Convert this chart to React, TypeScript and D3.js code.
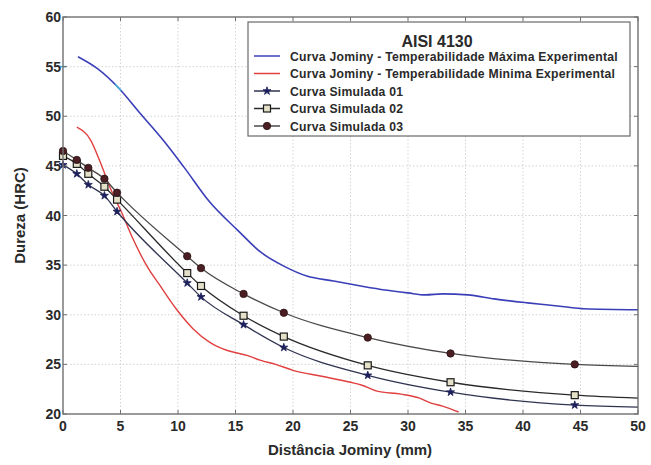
import React from "react";
import * as d3 from "d3";

// Jominy end-quench hardenability, AISI 4130
const maxX = [1.3, 3.0, 4.8, 6.7, 8.7, 10.5, 12.8, 15.2, 17.2, 19.2, 21.2, 23.5, 25.9, 28.0, 30.0, 31.5, 33.0, 35.2, 37.5, 40.4, 42.0, 43.6, 45.3, 50.0];
const maxHRC = [56.0, 54.8, 52.9, 50.3, 47.6, 44.9, 41.3, 38.5, 36.3, 34.9, 33.9, 33.4, 32.9, 32.5, 32.2, 32.0, 32.1, 32.0, 31.6, 31.2, 31.0, 30.8, 30.6, 30.5];

const minX = [1.2, 2.4, 3.2, 4.1, 5.1, 6.1, 7.3, 8.4, 9.9, 11.3, 12.8, 14.3, 16.0, 17.2, 18.5, 20.0, 22.5, 25.0, 26.0, 27.3, 29.4, 31.0, 32.0, 33.0, 34.4];
const minHRC = [48.9, 47.6, 45.5, 42.8, 40.3, 37.6, 34.9, 33.0, 30.5, 28.6, 27.2, 26.4, 25.9, 25.4, 25.0, 24.4, 23.8, 23.2, 22.9, 22.3, 22.0, 21.6, 21.1, 20.8, 20.2];

// experimental points marked on the maximum curve
const cyanX = [0, 4.8];
const cyanHRC = [55, 52.9];

// simulated curves: markers at every point except the final x = 50
const simX = [0, 1.2, 2.2, 3.6, 4.7, 10.8, 12.0, 15.7, 19.2, 26.5, 33.7, 44.5, 50];
const sim01 = [45.1, 44.2, 43.1, 42.0, 40.4, 33.2, 31.8, 29.0, 26.7, 23.9, 22.2, 20.9, 20.7];
const sim02 = [46.0, 45.2, 44.2, 42.9, 41.6, 34.2, 32.9, 29.9, 27.8, 24.9, 23.2, 21.9, 21.6];
const sim03 = [46.5, 45.6, 44.8, 43.7, 42.3, 35.9, 34.7, 32.1, 30.2, 27.7, 26.1, 25.0, 24.8];

const xTicks = [0, 5, 10, 15, 20, 25, 30, 35, 40, 45, 50];
const yTicks = [20, 25, 30, 35, 40, 45, 50, 55, 60];

const legendTitle = "AISI 4130";
const legendLabels = [
  "Curva Jominy - Temperabilidade Máxima Experimental",
  "Curva Jominy - Temperabilidade Minima Experimental",
  "Curva Simulada 01",
  "Curva Simulada 02",
  "Curva Simulada 03",
];

const W = 651;
const H = 465;
const plot = { left: 63, top: 17, right: 638, bottom: 414 };

const x = d3.scaleLinear().domain([0, 50]).range([plot.left, plot.right]);
const y = d3.scaleLinear().domain([20, 60]).range([plot.bottom, plot.top]);

const font = "Arial, 'Liberation Sans', Helvetica, sans-serif";

function pathOf(xs: number[], ys: number[]) {
  const line = d3
    .line<number>()
    .x((_, i) => x(xs[i]))
    .y((v) => y(v))
    .curve(d3.curveMonotoneX);
  return line(ys) || "";
}

const starPath = d3.symbol(d3.symbolStar, 20)() || "";

function Marker({ kind, cx, cy }: { kind: number; cx: number; cy: number }) {
  if (kind === 0)
    return <path d={starPath} transform={`translate(${cx},${cy})`} fill="#1c1f5a" stroke="#1c1f5a" strokeWidth={0.8} />;
  if (kind === 1)
    return <rect x={cx - 3.5} y={cy - 3.5} width={7} height={7} fill="#e4e1c8" stroke="#1a1a1a" strokeWidth={1.2} />;
  return <circle cx={cx} cy={cy} r={3.7} fill="#4a1e22" stroke="#2a1214" strokeWidth={0.8} />;
}

const simSeries = [
  { ys: sim01, color: "#2f3350" },
  { ys: sim02, color: "#2a2a2a" },
  { ys: sim03, color: "#4d4848" },
];

export default function App() {
  return (
    <div style={{ position: "fixed", left: 0, top: 0, width: W, height: H, background: "#fff" }}>
      <svg width={W} height={H} style={{ display: "block" }}>
        <rect width={W} height={H} fill="#fff" />
        {/* grid */}
        {xTicks.slice(1, -1).map((t) => (
          <line key={"gx" + t} x1={x(t)} x2={x(t)} y1={plot.top} y2={plot.bottom} stroke="#c8c8c8" strokeWidth={0.8} strokeDasharray="1.5,2" />
        ))}
        {yTicks.slice(1, -1).map((t) => (
          <line key={"gy" + t} x1={plot.left} x2={plot.right} y1={y(t)} y2={y(t)} stroke="#c8c8c8" strokeWidth={0.8} strokeDasharray="1.5,2" />
        ))}

        {/* curves */}
        <path d={pathOf(maxX, maxHRC)} fill="none" stroke="#3a3fb8" strokeWidth={1.6} />
        <path d={pathOf(minX, minHRC)} fill="none" stroke="#e0403f" strokeWidth={1.4} />
        {cyanX.map((cx, i) => (
          <line key={"c" + i} x1={x(cx) - 3} x2={x(cx) + 3} y1={y(cyanHRC[i]) - (i ? 3 : 0)} y2={y(cyanHRC[i]) + (i ? 3 : 0)} stroke="#3fb3d6" strokeWidth={1.6} />
        ))}
        {simSeries.map((s, k) => (
          <g key={"s" + k}>
            <path d={pathOf(simX, s.ys)} fill="none" stroke={s.color} strokeWidth={1.3} />
            {s.ys.slice(0, -1).map((v, i) => (
              <Marker key={i} kind={k} cx={x(simX[i])} cy={y(v)} />
            ))}
          </g>
        ))}

        {/* frame and ticks */}
        <rect x={plot.left} y={plot.top} width={plot.right - plot.left} height={plot.bottom - plot.top} fill="none" stroke="#707070" strokeWidth={1.4} />
        {xTicks.map((t) => (
          <g key={"xt" + t}>
            <line x1={x(t)} x2={x(t)} y1={plot.bottom} y2={plot.bottom - 4} stroke="#707070" />
            <line x1={x(t)} x2={x(t)} y1={plot.top} y2={plot.top + 4} stroke="#707070" />
            <text x={x(t)} y={plot.bottom + 17} textAnchor="middle" fontFamily={font} fontWeight="bold" fontSize={14} fill="#2a2a2a">
              {t}
            </text>
          </g>
        ))}
        {yTicks.map((t) => (
          <g key={"yt" + t}>
            <line x1={plot.left} x2={plot.left + 4} y1={y(t)} y2={y(t)} stroke="#707070" />
            <line x1={plot.right} x2={plot.right - 4} y1={y(t)} y2={y(t)} stroke="#707070" />
            <text x={plot.left - 2} y={y(t) + 5} textAnchor="end" fontFamily={font} fontWeight="bold" fontSize={14} fill="#2a2a2a">
              {t}
            </text>
          </g>
        ))}

        {/* axis titles */}
        <text x={350} y={455} textAnchor="middle" fontFamily={font} fontWeight="bold" fontSize={15} fill="#2a2a2a">
          Distância Jominy (mm)
        </text>
        <text transform={`translate(25,${(plot.top + plot.bottom) / 2}) rotate(-90)`} textAnchor="middle" fontFamily={font} fontWeight="bold" fontSize={15} fill="#2a2a2a">
          Dureza (HRC)
        </text>

        {/* legend */}
        <g>
          <rect x={248} y={22} width={382} height={114} fill="#fff" stroke="#6a6a6a" strokeWidth={1.2} />
          <text x={437} y={47} textAnchor="middle" fontFamily={font} fontWeight="bold" fontSize={16} fill="#2a2a2a">
            {legendTitle}
          </text>
          {legendLabels.map((lab, i) => {
            const ly = 56 + i * 17.5;
            const colors = ["#3a3fb8", "#e0403f", simSeries[0].color, simSeries[1].color, simSeries[2].color];
            return (
              <g key={"l" + i}>
                <line x1={254} x2={280} y1={ly} y2={ly} stroke={colors[i]} strokeWidth={1.5} />
                {i >= 2 && <Marker kind={i - 2} cx={267} cy={ly} />}
                <text x={290} y={ly + 4.5} fontFamily={font} fontWeight="bold" fontSize={12.2} letterSpacing={0.25} fill="#2a2a2a">
                  {lab}
                </text>
              </g>
            );
          })}
        </g>
      </svg>
    </div>
  );
}
